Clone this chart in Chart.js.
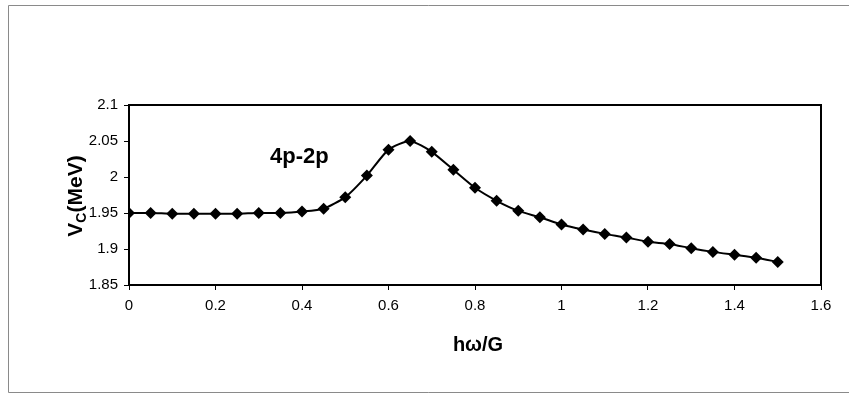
<!DOCTYPE html>
<html>
<head>
<meta charset="utf-8">
<script src="https://cdn.jsdelivr.net/npm/chart.js@4.4.0/dist/chart.umd.min.js"></script>
<style>
  html, body { margin: 0; padding: 0; background: #fff; }
  #wrap { width: 849px; height: 394px; position: relative; }
</style>
</head>
<body>
<div id="wrap"><canvas id="myChart" width="849" height="394"></canvas></div>
<script>
// h*omega/G values
const xValues = [0, 0.05, 0.1, 0.15, 0.2, 0.25, 0.3, 0.35, 0.4, 0.45, 0.5, 0.55, 0.6, 0.65, 0.7, 0.75,
    0.8, 0.85, 0.9, 0.95, 1.0, 1.05, 1.1, 1.15, 1.2, 1.25, 1.3, 1.35, 1.4, 1.45, 1.5];
// Vc (MeV) for 4p-2p
const vcValues = [1.950, 1.950, 1.949, 1.949, 1.949, 1.949, 1.950, 1.950, 1.952, 1.956, 1.972, 2.002,
    2.038, 2.050, 2.035, 2.010, 1.985, 1.967, 1.953, 1.944, 1.934, 1.927, 1.921, 1.916, 1.910,
    1.907, 1.901, 1.896, 1.892, 1.888, 1.882];
const xTicks = [0, 0.2, 0.4, 0.6, 0.8, 1, 1.2, 1.4, 1.6];
const yTicks = [1.85, 1.9, 1.95, 2, 2.05, 2.1];
const seriesLabel = '4p-2p';
const xTitle = 'h\u03c9/G';

const fontFam = 'Arial, "Liberation Sans", sans-serif';

let extras = {
    id: 'extras',
    afterDraw: function (chart) {
        const c = chart.ctx;
        const a = chart.chartArea;
        c.save();
        // outer frame
        c.strokeStyle = '#8a8a8a';
        c.lineWidth = 1;
        c.beginPath();
        c.moveTo(849, 5.5); c.lineTo(8.5, 5.5); c.lineTo(8.5, 392.5); c.lineTo(849, 392.5);
        c.stroke();
        // plot box
        c.strokeStyle = '#000';
        c.lineWidth = 2;
        c.strokeRect(a.left, a.top, a.right - a.left, a.bottom - a.top);

        c.fillStyle = '#000';
        // series label
        c.font = 'bold 22px ' + fontFam;
        c.textAlign = 'left';
        c.textBaseline = 'middle';
        c.fillText(seriesLabel, 270, 157);

        // x title
        c.font = 'bold 20px ' + fontFam;
        c.textAlign = 'center';
        c.fillText(xTitle, 478, 345);

        // y title with subscript
        c.translate(76, 196);
        c.rotate(-Math.PI / 2);
        c.textAlign = 'left';
        c.font = 'bold 21px ' + fontFam;
        const w1 = c.measureText('V').width;
        c.font = 'bold 14px ' + fontFam;
        const w2 = c.measureText('C').width;
        c.font = 'bold 21px ' + fontFam;
        const w3 = c.measureText('(MeV)').width;
        let x0 = -(w1 + w2 + w3) / 2;
        c.fillText('V', x0, 0);
        c.font = 'bold 14px ' + fontFam;
        c.fillText('C', x0 + w1, 6);
        c.font = 'bold 21px ' + fontFam;
        c.fillText('(MeV)', x0 + w1 + w2, 0);
        c.restore();
    }
};

const ctx = document.getElementById('myChart');
let chart = new Chart(ctx, {
    type: 'line',
    data: {
        datasets: [{
            label: seriesLabel,
            data: xValues.map((x, i) => ({ x: x, y: vcValues[i] })),
            borderColor: '#000',
            backgroundColor: '#000',
            borderWidth: 2,
            tension: 0.2,
            pointStyle: 'rectRot',
            pointRadius: 6,
            pointBorderWidth: 0,
            pointBackgroundColor: '#000'
        }]
    },
    options: {
        animation: false,
        responsive: false,
        layout: { padding: { left: 79, right: 28, top: 105, bottom: 0 } },
        plugins: { legend: { display: false }, tooltip: { enabled: false } },
        scales: {
            x: {
                type: 'linear',
                min: 0, max: 1.6,
                afterBuildTicks: function (s) { s.ticks = xTicks.map(v => ({ value: v })); },
                afterFit: function (s) { s.height = 109; },
                grid: { drawOnChartArea: false, color: '#000', tickLength: 5, tickWidth: 1 },
                border: { color: '#000', width: 2 },
                ticks: {
                    color: '#000', padding: 7, maxRotation: 0,
                    font: { family: fontFam, size: 15 },
                    callback: v => String(Math.round(v * 10) / 10)
                }
            },
            y: {
                min: 1.85, max: 2.1,
                afterBuildTicks: function (s) { s.ticks = yTicks.map(v => ({ value: v })); },
                afterFit: function (s) { s.width = 50; },
                grid: { drawOnChartArea: false, color: '#000', tickLength: 5, tickWidth: 1 },
                border: { color: '#000', width: 2 },
                ticks: {
                    color: '#000', padding: 6,
                    font: { family: fontFam, size: 15 },
                    callback: v => String(Math.round(v * 100) / 100)
                }
            }
        }
    },
    plugins: [extras]
});
</script>
</body>
</html>
